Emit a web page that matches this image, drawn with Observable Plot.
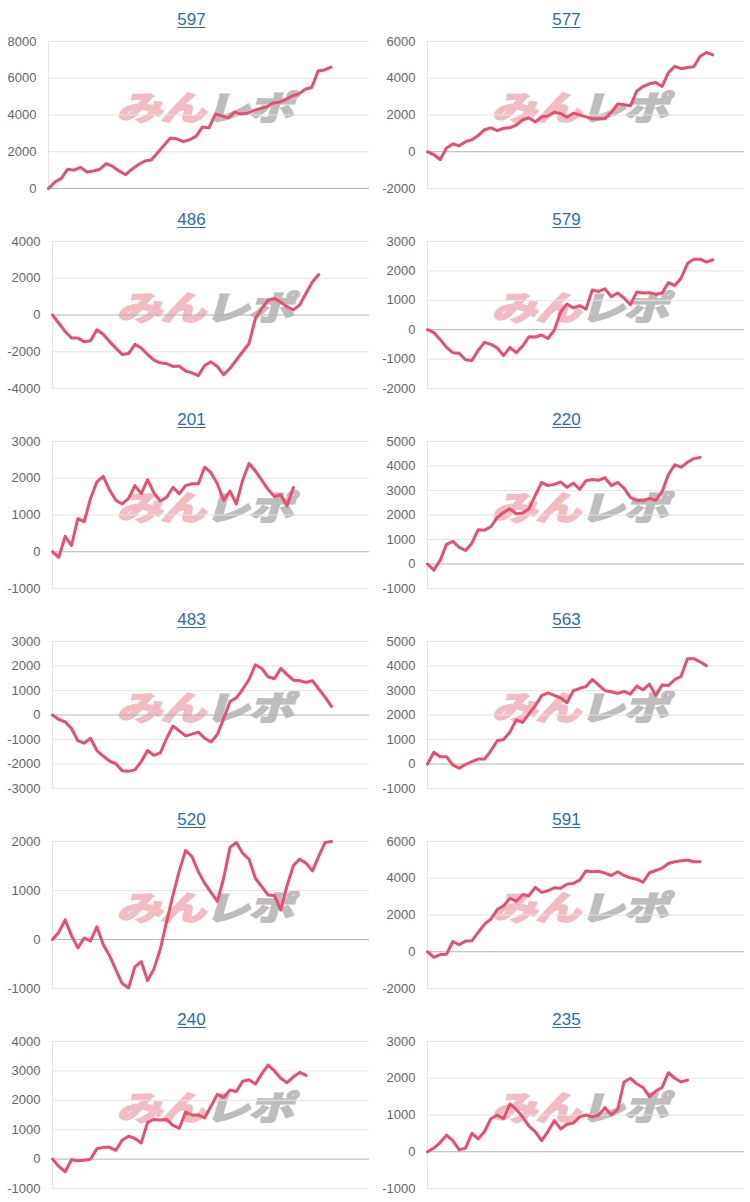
<!DOCTYPE html>
<html><head><meta charset="utf-8">
<script src="https://cdn.jsdelivr.net/npm/d3@7"></script>
<script src="https://cdn.jsdelivr.net/npm/@observablehq/plot@0.6"></script>
<style>
body{margin:0;background:#fff;font-family:"Liberation Sans",Arial,sans-serif;}
#grid{display:grid;grid-template-columns:375px 375px;width:750px;}
.panel{position:relative;height:200px;overflow:hidden;}
.title{position:absolute;top:9px;left:8px;right:0;text-align:center;font-size:17px;line-height:22px;}
.title a{color:#2b6cae;text-decoration:underline;text-underline-offset:2px;}
.wm{position:absolute;left:209px;top:106px;transform:translate(-50%,-50%) skewX(-16deg) scaleY(0.74);white-space:nowrap;font-family:"Noto Sans CJK JP",sans-serif;font-weight:700;font-size:45px;line-height:1;letter-spacing:-1px;}
.wm .a{color:#f1bcc2;-webkit-text-stroke:3px #f1bcc2;}
.wm .b{color:#bdbdbd;-webkit-text-stroke:3px #bdbdbd;}
.panel svg{position:absolute;top:30px;left:0;}
</style>
</head><body>
<div id="grid"></div>
<script>
const titles = ["597","577","486","579","201","220","483","563","520","591","240","235"];
const yTicks = [
  [0,2000,4000,6000,8000],
  [-2000,0,2000,4000,6000],
  [-4000,-2000,0,2000,4000],
  [-2000,-1000,0,1000,2000,3000],
  [-1000,0,1000,2000,3000],
  [-1000,0,1000,2000,3000,4000,5000],
  [-3000,-2000,-1000,0,1000,2000,3000],
  [-1000,0,1000,2000,3000,4000,5000],
  [-1000,0,1000,2000],
  [-2000,0,2000,4000,6000],
  [-1000,0,1000,2000,3000,4000],
  [-1000,0,1000,2000,3000]
];
const xStep = 2;     // days between samples
const xDays = 100;   // days shown on x axis

const s597 = [0,350,550,1050,1000,1150,900,950,1050,1350,1200,950,750,1050,1300,1500,1550,1950,2350,2750,2700,2550,2650,2850,3350,3300,4050,3950,3850,4150,4050,4100,4250,4350,4450,4650,4700,4850,5050,5150,5400,5500,6400,6450,6600];
const s577 = [0,-150,-420,200,420,330,550,650,880,1200,1300,1150,1280,1300,1450,1730,1850,1620,1900,1950,2150,2080,1880,2100,2000,1900,1800,1800,1800,2150,2600,2560,2500,3300,3550,3700,3770,3550,4300,4650,4520,4590,4620,5200,5400,5270];
const s486 = [0,-450,-900,-1250,-1250,-1450,-1400,-800,-1050,-1450,-1800,-2150,-2100,-1600,-1800,-2150,-2450,-2600,-2650,-2800,-2780,-3050,-3150,-3300,-2750,-2550,-2800,-3250,-2900,-2450,-2000,-1550,-200,350,800,900,700,450,280,550,1200,1800,2200];
const s579 = [0,-100,-330,-600,-780,-800,-1020,-1050,-700,-430,-500,-620,-880,-600,-780,-560,-240,-250,-180,-300,-20,600,870,740,820,700,1350,1300,1390,1120,1250,1080,850,1280,1250,1260,1200,1250,1600,1500,1750,2250,2400,2400,2300,2380];
const s201 = [0,-150,420,170,900,820,1450,1900,2050,1680,1400,1300,1450,1800,1580,1960,1600,1380,1480,1750,1580,1800,1850,1850,2300,2150,1850,1400,1650,1300,1950,2400,2200,1950,1700,1500,1550,1250,1750];
const s220 = [0,-250,150,800,920,680,550,850,1400,1380,1520,1900,2100,2250,2050,2080,2250,2800,3330,3200,3250,3350,3130,3300,3050,3400,3450,3420,3520,3200,3330,3100,2720,2600,2580,2680,2600,2950,3650,4050,3950,4150,4300,4350];
const s483 = [0,-180,-280,-550,-1050,-1150,-950,-1450,-1680,-1880,-1990,-2280,-2300,-2240,-1900,-1450,-1650,-1550,-950,-450,-650,-850,-780,-700,-950,-1100,-800,-150,550,700,1050,1450,2050,1900,1560,1480,1900,1650,1420,1400,1330,1400,1060,730,350];
const s563 = [0,480,300,300,-50,-170,-20,100,200,200,540,950,1000,1300,1800,1700,2050,2380,2790,2900,2800,2700,2500,2990,3090,3160,3450,3220,2990,2950,2880,2960,2850,3180,3030,3260,2800,3220,3200,3450,3580,4300,4300,4170,4010];
const s520 = [0,150,400,80,-170,30,-30,260,-100,-330,-620,-900,-990,-560,-450,-840,-600,-200,360,900,1400,1820,1690,1385,1150,960,780,1250,1880,1980,1760,1640,1250,1080,910,900,600,1100,1510,1640,1555,1400,1700,1980,2000];
const s591 = [0,-300,-150,-130,560,380,580,600,1050,1500,1780,2300,2500,2900,2750,3100,3050,3500,3230,3320,3480,3450,3680,3720,3900,4400,4350,4380,4280,4150,4350,4150,4020,3950,3780,4300,4420,4550,4800,4900,4950,4990,4900,4900];
const s240 = [0,-250,-430,-20,-60,-40,0,350,400,400,300,650,780,700,550,1250,1350,1330,1350,1150,1050,1600,1500,1500,1400,1800,2200,2100,2350,2300,2650,2700,2550,2900,3200,3000,2750,2600,2800,2950,2850];
const s235 = [0,100,250,450,300,50,100,500,350,550,900,1000,900,1300,1150,950,700,550,300,550,850,620,750,780,950,1000,950,1000,1200,1000,1150,1900,2000,1850,1750,1500,1650,1750,2150,2000,1900,1950];

const series = [s597,s577,s486,s579,s201,s220,s483,s563,s520,s591,s240,s235];

const grid = document.getElementById("grid");
series.forEach((vals, i) => {
  const ticks = yTicks[i];
  const panel = document.createElement("div");
  panel.className = "panel";
  if (i >= 10) panel.style.height = "202px";
  const title = document.createElement("div");
  title.className = "title";
  const a = document.createElement("a");
  a.textContent = titles[i];
  title.appendChild(a);
  panel.appendChild(title);
  const wm = document.createElement("div");
  wm.className = "wm";
  wm.innerHTML = '<span class="a">みん</span><span class="b">レポ</span>';
  panel.appendChild(wm);
  const data = vals.map((v, k) => ({x: k * xStep, y: v}));
  const hasNeg = ticks[0] < 0;
  const chart = Plot.plot({
    width: 375,
    height: 170,
    marginTop: 11,
    marginBottom: 12,
    marginLeft: hasNeg ? 52 : 48,
    marginRight: 6,
    style: {fontSize: "13px", fontFamily: "Liberation Sans, Arial, sans-serif", color: "#666", background: "transparent", overflow: "visible"},
    x: {domain: [0, xDays], axis: null},
    y: {domain: [ticks[0], ticks[ticks.length - 1]], ticks: ticks, tickSize: 0, tickPadding: 12, tickFormat: d => String(d), label: null},
    marks: [
      Plot.ruleY(ticks.filter(t => t !== 0), {stroke: "#e4e4e4", strokeWidth: 1}),
      Plot.ruleX([0], {stroke: "#e4e4e4", strokeWidth: 1}),
      Plot.ruleY([0], {stroke: "#b3b3b3", strokeWidth: 1}),
      Plot.line(data, {x: "x", y: "y", stroke: "#e84e6d", strokeWidth: 3, strokeLinejoin: "round", strokeLinecap: "round"})
    ]
  });
  panel.appendChild(chart);
  grid.appendChild(panel);
});
</script>
</body></html>
